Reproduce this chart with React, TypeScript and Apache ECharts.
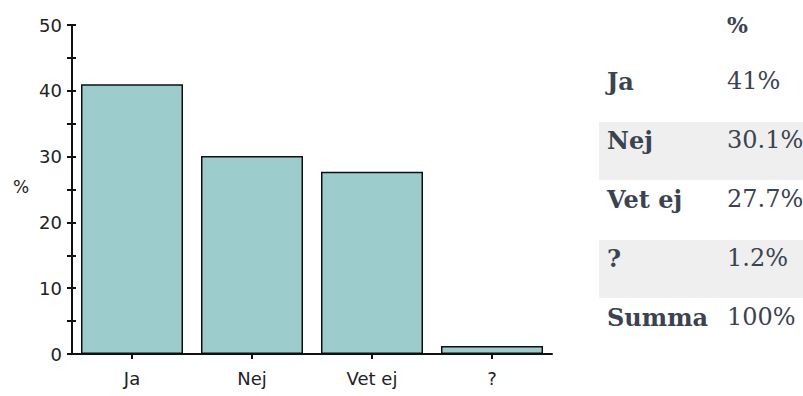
import React, { useEffect, useRef } from "react";
import * as echarts from "echarts";

const categories: string[] = ["Ja", "Nej", "Vet ej", "?"];
const values: number[] = [41, 30.1, 27.7, 1.2];
const yTicks = { min: 0, max: 50, interval: 5, labelStep: 10 };
const tableHeader = "%";
const totalLabel = "Summa";

export default function App() {
  const ref = useRef<HTMLDivElement>(null);
  useEffect(() => {
    if (!ref.current) return;
    const chart = echarts.init(ref.current, undefined, { renderer: "svg" });
    const textColor = "#3b4351";
    const serif = "DejaVu Serif";
    const sans = "DejaVu Sans";
    const total = Math.round(values.reduce((a, b) => a + b, 0) * 10) / 10;
    const rows = [...categories.map((c, i) => ({ label: c, value: values[i] + "%" })), { label: totalLabel, value: total + "%" }];
    const rowTop0 = 63;
    const rowH = 59;
    const graphics: any[] = [];
    rows.forEach((r, i) => {
      const top = rowTop0 + i * rowH;
      if (i % 2 === 1) {
        graphics.push({ type: "rect", shape: { x: 599, y: top, width: 204, height: rowH - 1 }, style: { fill: "#efefef" }, z: 0 });
      }
      graphics.push({ type: "text", x: 607, y: top + 18, style: { text: r.label, font: `bold 24px '${serif}'`, fill: textColor, verticalAlign: "middle" }, z: 2 });
      graphics.push({ type: "text", x: 727, y: top + 18, style: { text: r.value, font: `24px '${serif}'`, fill: textColor, verticalAlign: "middle" }, z: 2 });
    });
    graphics.push({ type: "text", x: 727, y: 25, style: { text: tableHeader, font: `bold 22px '${serif}'`, fill: textColor, verticalAlign: "middle" } });
    graphics.push({ type: "text", x: 21, y: 187, style: { text: "%", font: `17px '${sans}'`, fill: "#222", align: "center", verticalAlign: "middle" } });

    const yBase = {
      type: "value",
      min: yTicks.min,
      max: yTicks.max,
      interval: yTicks.interval,
      position: "left",
      splitLine: { show: false },
      axisLine: { show: true, lineStyle: { color: "#111", width: 2 } },
    };
    chart.setOption({
      animation: false,
      grid: { left: 72, right: 251, top: 25, bottom: 42 },
      xAxis: {
        type: "category",
        data: categories,
        axisLine: { lineStyle: { color: "#111", width: 2 } },
        axisTick: { show: true, alignWithLabel: true, length: 5, lineStyle: { color: "#111", width: 2 } },
        axisLabel: { color: "#222", fontSize: 18, fontFamily: sans, margin: 15 },
      },
      yAxis: [
        {
          ...yBase,
          axisTick: { show: true, length: 5, lineStyle: { color: "#111", width: 2 } },
          axisLabel: {
            color: "#222",
            fontSize: 18,
            fontFamily: sans,
            margin: 10,
            formatter: (v: number) => (v % yTicks.labelStep === 0 ? String(v) : ""),
          },
        },
        {
          ...yBase,
          axisTick: { show: true, inside: true, length: 4, lineStyle: { color: "#111", width: 2 } },
          axisLabel: { show: false },
        },
      ],
      series: [
        {
          type: "bar",
          data: values,
          barWidth: "85%",
          itemStyle: { color: "#9ccccc", borderColor: "#111", borderWidth: 1.5 },
        },
      ],
      graphic: graphics,
    });
    return () => chart.dispose();
  }, []);
  return <div ref={ref} style={{ position: "fixed", left: 0, top: 0, width: 803, height: 396, background: "#fff" }} />;
}
